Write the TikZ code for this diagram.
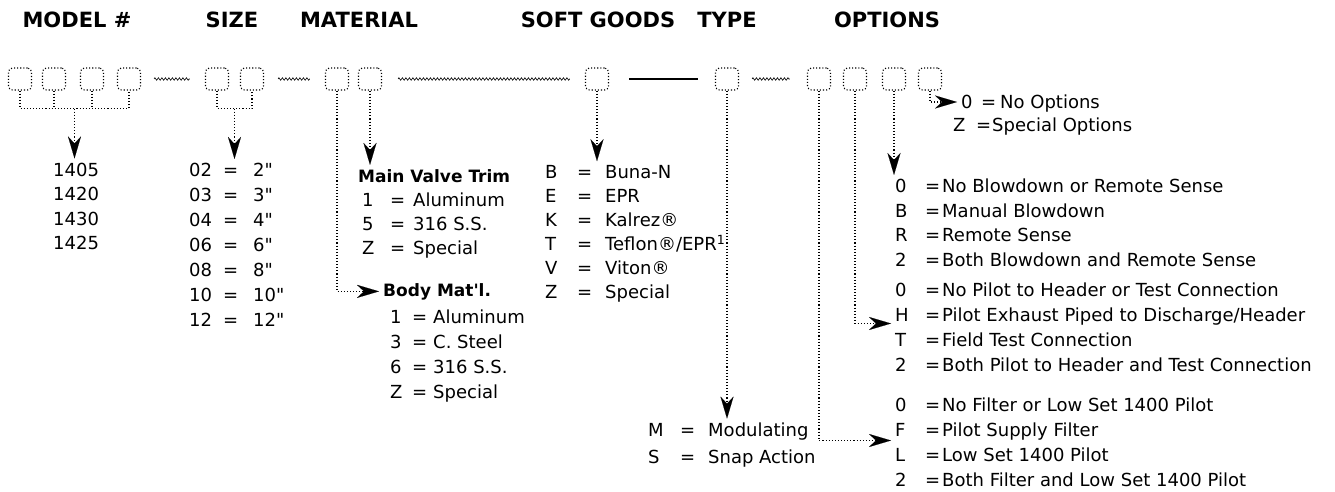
\documentclass[tikz,border=0pt]{standalone}
\usepackage{fontspec}
\setmainfont{DejaVu Sans}[Ligatures=TeXOff]
\usetikzlibrary{arrows.meta,positioning,calc,decorations.pathmorphing}

\begin{document}
\begin{tikzpicture}[
    x=1pt, y=-1pt,
    every node/.style={inner sep=0pt, anchor=west},
    hdr/.style={anchor=center, font=\fontsize{21}{24}\selectfont\bfseries},
    sub/.style={anchor=base west, yshift=-6pt, font=\fontsize{17}{20}\selectfont\bfseries},
    txt/.style={anchor=base west, yshift=-6.5pt, font=\fontsize{18}{20}\selectfont},
    digit/.style={draw, dotted, line width=1.1pt, rounded corners=4pt, minimum width=23pt, minimum height=22pt, anchor=center},
    link/.style={draw, dotted, line width=1.1pt},
    arrow/.style={link, -{Stealth[length=22pt, width=13pt, inset=7pt, line width=0.1pt, fill=black]}, shorten >=4pt},
    squig/.style={draw, line width=0.6pt, decorate, decoration={zigzag, segment length=3.5pt, amplitude=1.3pt}},
    bar/.style={draw, line width=2.2pt}
]
\useasboundingbox (0,0) rectangle (1335,492);

% Column Headers
\node[hdr] (hmodel) at (77,20) {MODEL \#};
\node[hdr] (hsize) at (232,20) {SIZE};
\node[hdr] (hmat) at (359,20) {MATERIAL};
\node[hdr] (hsoft) at (598,20) {SOFT GOODS};
\node[hdr] (htype) at (727,20) {TYPE};
\node[hdr] (hopt) at (887,20) {OPTIONS};

% Code Digit Boxes
\foreach \n/\x in {m1/20, m2/54, m3/92, m4/129, s1/217, s2/252, ma1/337, ma2/370,
                   sg/597, ty/727, o1/819, o2/855, o3/894, o4/930}
  \node[digit] (\n) at (\x,79) {};

% Separators
\draw[squig] ([xshift=13pt]m4.east) -- ([xshift=-15pt]s1.west);
\draw[squig] ([xshift=14pt]s2.east) -- ([xshift=-15pt]ma1.west);
\draw[squig] ([xshift=16pt]ma2.east) -- ([xshift=-15pt]sg.west);
\draw[bar] ([xshift=20pt]sg.east) -- ([xshift=-17pt]ty.west);
\draw[squig] ([xshift=13pt]ty.east) -- ([xshift=-17pt]o1.west);

% Model
\draw[link] (m1.south) -- ++(0,18) -| (m4.south);
\draw[link] (m2.south) -- ++(0,18) (m3.south) -- ++(0,18);
\coordinate (mbr) at ($(m1.south)!0.5!(m4.south)+(0,18)$);
\foreach \v [count=\i] in {1405,1420,1430,1425}
  \node[txt] (mv\i) at (53,145+24.5*\i) {\v};
\draw[arrow] (mbr) -- (mbr |- mv1.north);

% Size
\draw[link] (s1.south) -- ++(0,18) -| (s2.south);
\coordinate (sbr) at ($(s1.south)!0.5!(s2.south)+(0,18)$);
\foreach \c/\v [count=\i] in {02/2, 03/3, 04/4, 06/6, 08/8, 10/10, 12/12} {
  \node[txt] (sc\i) at (189,145+25*\i) {\c};
  \node[txt] (se\i) at (223,145+25*\i) {=};
  \node[txt] (sv\i) at (253,145+25*\i) {\v"};
}
\draw[arrow] (sbr) -- (sbr |- sc1.north);

% Material
\node[sub] (trim) at (358,176) {Main Valve Trim};
\foreach \c/\v [count=\i] in {1/Aluminum, 5/316 S.S., Z/Special} {
  \node[txt] (tc\i) at (362,176+24*\i) {\c};
  \node[txt] (te\i) at (390,176+24*\i) {=};
  \node[txt] (tv\i) at (413,176+24*\i) {\v};
}
\draw[arrow] (ma2.south) -- (ma2.south |- trim.north);
\node[sub] (body) at (383,290) {Body Mat'l.};
\foreach \c/\v [count=\i] in {1/Aluminum, 3/C. Steel, 6/316 S.S., Z/Special} {
  \node[txt] (bc\i) at (390,292+25*\i) {\c};
  \node[txt] (be\i) at (412,292+25*\i) {=};
  \node[txt] (bv\i) at (433,292+25*\i) {\v};
}
\draw[arrow] (ma1.south) |- (body.west);

% Soft Goods
\foreach \c/\v [count=\i] in {B/Buna-N, E/EPR, K/Kalrez®, T/{Teflon®/EPR\textsuperscript{1}}, V/Viton®, Z/Special} {
  \node[txt] (gc\i) at (545,148+24*\i) {\c};
  \node[txt] (ge\i) at (577,148+24*\i) {=};
  \node[txt] (gv\i) at (605,148+24*\i) {\v};
}
\draw[arrow] (sg.south) -- (sg.south |- gv1.north);

% Type
\foreach \c/\v [count=\i] in {M/Modulating, S/Snap Action} {
  \node[txt] (yc\i) at (648,403+27*\i) {\c};
  \node[txt] (ye\i) at (680,403+27*\i) {=};
  \node[txt] (yv\i) at (708,403+27*\i) {\v};
}
\draw[arrow] (ty.south) -- (ty.south |- yv1.north);

% Options
\node[txt] (oc41) at (961,102) {0};
\node[txt] (oe41) at (981,102) {=};
\node[txt] (ov41) at (1000,102) {No Options};
\node[txt] (oc42) at (953,125) {Z};
\node[txt] (oe42) at (976,125) {=};
\node[txt] (ov42) at (992,125) {Special Options};
\draw[arrow] (o4.south) |- ([yshift=6.5pt]oc41.base west);

\foreach \c/\v [count=\i] in {0/No Blowdown or Remote Sense, B/Manual Blowdown, R/Remote Sense, 2/Both Blowdown and Remote Sense} {
  \node[txt] (oc3\i) at (895,161.5+24.5*\i) {\c};
  \node[txt] (oe3\i) at (925,161.5+24.5*\i) {=};
  \node[txt] (ov3\i) at (942,161.5+24.5*\i) {\v};
}
\draw[arrow] (o3.south) -- (o3.south |- oc31.north);

\foreach \c/\v [count=\i] in {0/No Pilot to Header or Test Connection, H/{Pilot Exhaust Piped to Discharge/Header}, T/Field Test Connection, 2/Both Pilot to Header and Test Connection} {
  \node[txt] (oc2\i) at (895,265+25*\i) {\c};
  \node[txt] (oe2\i) at (925,265+25*\i) {=};
  \node[txt] (ov2\i) at (942,265+25*\i) {\v};
}
\draw[arrow] (o2.south) |- ([yshift=-2pt]oc22.base west);

\foreach \c/\v [count=\i] in {0/No Filter or Low Set 1400 Pilot, F/Pilot Supply Filter, L/Low Set 1400 Pilot, 2/Both Filter and Low Set 1400 Pilot} {
  \node[txt] (oc1\i) at (895,380+25*\i) {\c};
  \node[txt] (oe1\i) at (925,380+25*\i) {=};
  \node[txt] (ov1\i) at (942,380+25*\i) {\v};
}
\draw[arrow] (o1.south) |- ([yshift=-4pt]oc12.base west);

\end{tikzpicture}
\end{document}
